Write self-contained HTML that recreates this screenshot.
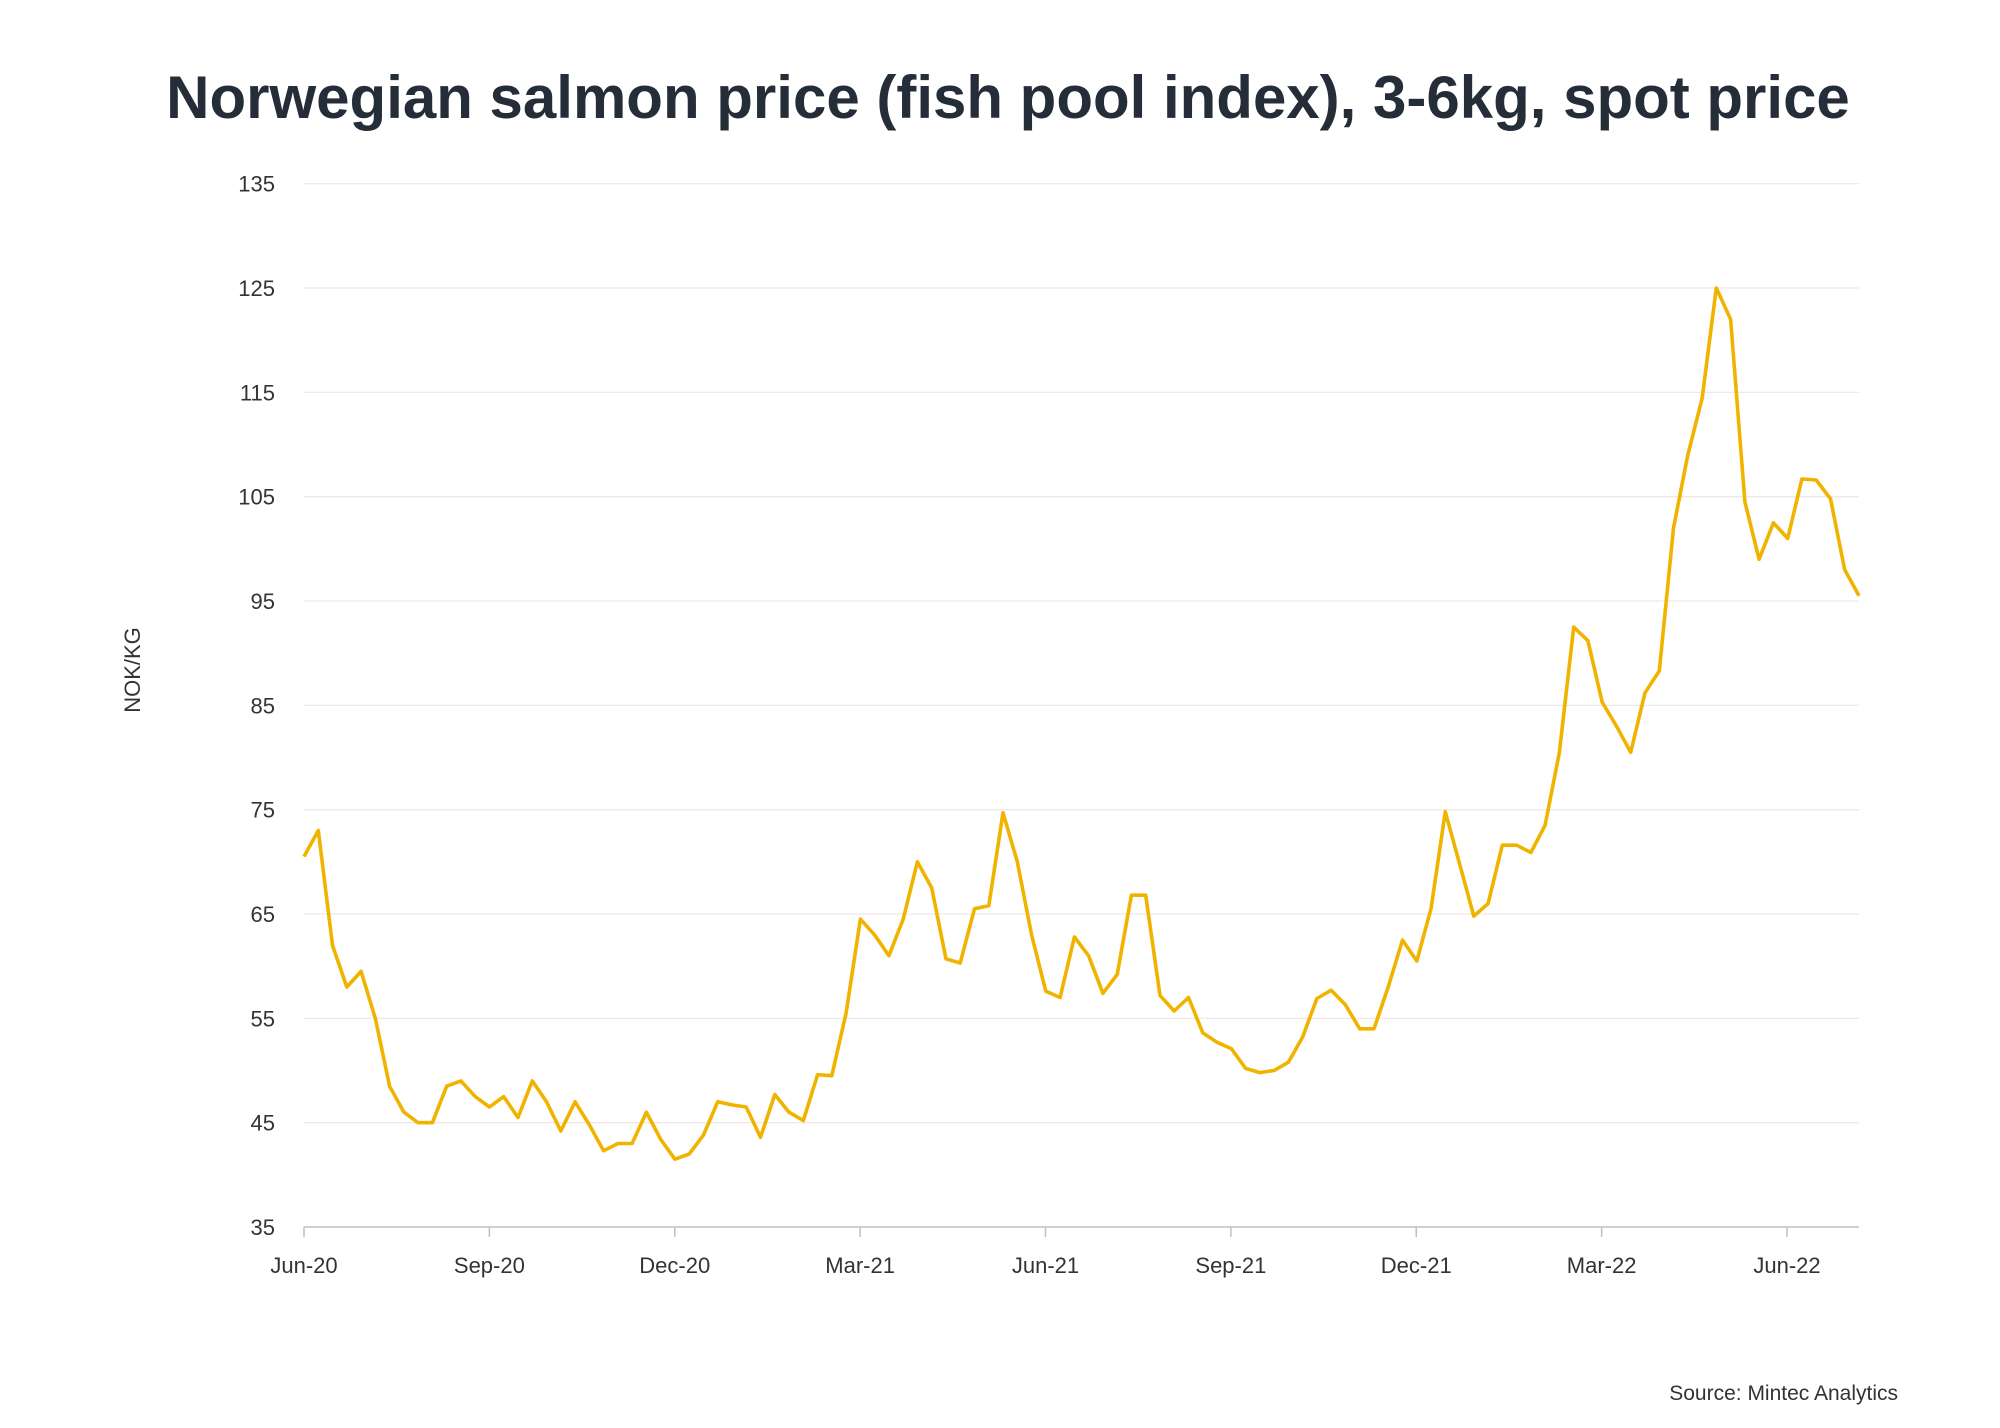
<!DOCTYPE html>
<html><head><meta charset="utf-8">
<style>
html,body{margin:0;padding:0;background:#fff;}
svg{display:block;font-family:"Liberation Sans",sans-serif;}
</style></head>
<body>
<svg id="chart" width="2000" height="1428" viewBox="0 0 2000 1428">
<text x="1008" y="118" text-anchor="middle" font-size="60" font-weight="bold" fill="#252d38">Norwegian salmon price (fish pool index), 3-6kg, spot price</text>
<text transform="translate(140,670) rotate(-90)" text-anchor="middle" font-size="22" fill="#333">NOK/KG</text>
<text x="1898" y="1400" text-anchor="end" font-size="21" fill="#333">Source: Mintec Analytics</text>
<g id="grid"></g><g id="yticks"></g><g id="xticks"></g><g id="series"></g>
</svg>
<script>
const yTicks=[35,45,55,65,75,85,95,105,115,125,135];
const xTickLabels=["Jun-20","Sep-20","Dec-20","Mar-21","Jun-21","Sep-21","Dec-21","Mar-22","Jun-22"];
const prices=[70.5,73,62,58,59.5,55,48.5,46,45,45,48.5,49,47.5,46.5,47.5,45.5,49,47,44.2,47,44.8,42.3,43,43,46,43.4,41.5,42,43.8,47,46.7,46.5,43.6,47.7,46,45.2,49.6,49.5,55.5,64.5,63,61,64.5,70,67.5,60.7,60.3,65.5,65.8,74.7,70,63,57.6,57,62.8,61,57.4,59.2,66.8,66.8,57.2,55.7,57,53.6,52.7,52.1,50.2,49.8,50,50.8,53.2,56.9,57.7,56.3,54,54,58,62.5,60.5,65.5,74.8,69.8,64.8,66,71.6,71.6,70.9,73.5,80.5,92.5,91.2,85.3,83,80.5,86.2,88.3,102,109,114.4,125,122,104.5,99,102.5,101,106.7,106.6,104.8,98,95.5];
const NS="http://www.w3.org/2000/svg";
const X0=304,XT=1787,XEND=1859,Y135=183.7,Y35=1227;
function yScale(v){return Y35+(v-35)*(Y135-Y35)/100;}
function xIdx(i){return X0+i*(XEND-X0)/(prices.length-1);}
function xTick(j){return X0+j*(XT-X0)/8;}
function mk(tag,attrs,parent){const e=document.createElementNS(NS,tag);for(const k in attrs)e.setAttribute(k,attrs[k]);document.getElementById(parent).appendChild(e);return e;}
yTicks.forEach((v,i)=>{
  const y=yScale(v);
  if(i>0){const g=mk('line',{x1:X0,x2:XEND,y1:y,y2:y,stroke:'#f3e6e6','stroke-width':1.3},'grid');
  
  }
  const t=mk('text',{x:275,y:y+8,'text-anchor':'end','font-size':22,fill:'#333'},'yticks');
  t.textContent=v;
  
  
});
const ax=mk('line',{x1:X0,x2:XEND,y1:Y35,y2:Y35,stroke:'#bfbfbf','stroke-width':1.5},'grid');


xTickLabels.forEach((lab,j)=>{
  const x=xTick(j);
  const tk=mk('line',{x1:x,x2:x,y1:Y35,y2:Y35+10,stroke:'#bfbfbf','stroke-width':1.5},'xticks');
  
  
  const t=mk('text',{x:x,y:1273,'text-anchor':'middle','font-size':22,fill:'#333'},'xticks');
  t.textContent=lab;
  
  
});
const pts=prices.map((v,i)=>xIdx(i).toFixed(1)+','+yScale(v).toFixed(1)).join(' ');
const pl=mk('polyline',{points:pts,fill:'none',stroke:'#f0b400','stroke-width':3.6,'stroke-linejoin':'round'},'series');


</script>
</body></html>
